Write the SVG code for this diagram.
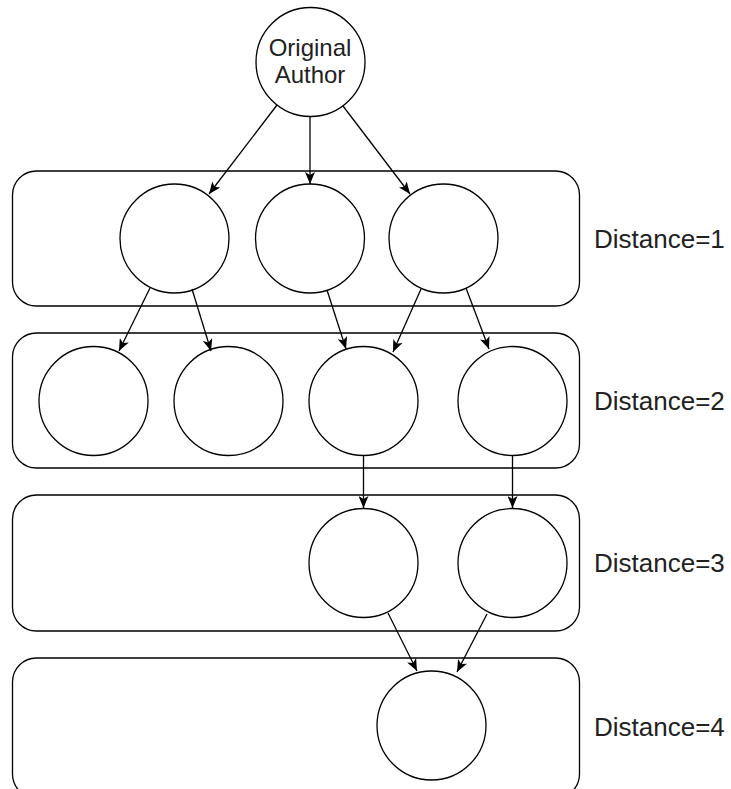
<svg xmlns="http://www.w3.org/2000/svg" width="731" height="789" viewBox="0 0 731 789">
  <style>
    .band { fill: #ffffff; stroke: #000000; stroke-width: 1.3; }
    .node circle { fill: #ffffff; stroke: #000000; stroke-width: 1.3; }
    .edge { fill: none; stroke: #000000; stroke-width: 1.3; marker-end: url(#arrow); }
    .label { font-family: "Liberation Sans", Arial, sans-serif; font-size: 26px; fill: #222222; }
    .name { font-family: "Liberation Sans", Arial, sans-serif; font-size: 24px; fill: #222222; text-anchor: middle; }
  </style>
  <defs>
    <marker id="arrow" viewBox="0 0 12 10" refX="12" refY="5" markerWidth="12" markerHeight="10" markerUnits="userSpaceOnUse" orient="auto">
      <path d="M0,0 L12,5 L0,10 L3,5 Z" fill="#000000"/>
    </marker>
  </defs>
  <rect width="731" height="789" fill="#ffffff"/>

  <!-- distance bands -->
  <g id="band-1">
    <rect class="band" x="12.5" y="171" width="567" height="135" rx="24"/>
    <text class="label" x="594" y="248">Distance=1</text>
  </g>
  <g id="band-2">
    <rect class="band" x="12.5" y="333" width="567" height="135" rx="24"/>
    <text class="label" x="594" y="410">Distance=2</text>
  </g>
  <g id="band-3">
    <rect class="band" x="12.5" y="495" width="567" height="136" rx="24"/>
    <text class="label" x="594" y="572">Distance=3</text>
  </g>
  <g id="band-4">
    <rect class="band" x="12.5" y="658" width="567" height="140" rx="24"/>
    <text class="label" x="594" y="736">Distance=4</text>
  </g>

  <!-- root -->
  <g id="author" class="node">
    <circle cx="310.5" cy="62" r="54.5"/>
    <text class="name" x="310" y="56">Original</text>
    <text class="name" x="310" y="83">Author</text>
  </g>

  <!-- distance 1 -->
  <g id="d1-a" class="node"><circle cx="174.5" cy="238.5" r="54.5"/></g>
  <g id="d1-b" class="node"><circle cx="310" cy="238.5" r="54.5"/></g>
  <g id="d1-c" class="node"><circle cx="443.5" cy="238.5" r="54.5"/></g>

  <!-- distance 2 -->
  <g id="d2-a" class="node"><circle cx="93.5" cy="401" r="54.5"/></g>
  <g id="d2-b" class="node"><circle cx="228.5" cy="401" r="54.5"/></g>
  <g id="d2-c" class="node"><circle cx="363.5" cy="401" r="54.5"/></g>
  <g id="d2-d" class="node"><circle cx="512.5" cy="401" r="54.5"/></g>

  <!-- distance 3 -->
  <g id="d3-a" class="node"><circle cx="363.5" cy="563" r="54.5"/></g>
  <g id="d3-b" class="node"><circle cx="512.5" cy="563" r="54.5"/></g>

  <!-- distance 4 -->
  <g id="d4-a" class="node"><circle cx="431.5" cy="725.5" r="54.5"/></g>

  <!-- connectors -->
  <g id="edges">
    <line class="edge" x1="277" y1="105" x2="209" y2="194"/>
    <line class="edge" x1="310" y1="117" x2="310" y2="184"/>
    <line class="edge" x1="343" y1="106" x2="410" y2="194"/>
    <line class="edge" x1="150" y1="288" x2="119" y2="351"/>
    <line class="edge" x1="192" y1="289" x2="211" y2="351"/>
    <line class="edge" x1="327" y1="290" x2="346" y2="349"/>
    <line class="edge" x1="421" y1="289" x2="393" y2="352"/>
    <line class="edge" x1="466" y1="288" x2="489" y2="349"/>
    <line class="edge" x1="363.5" y1="455.5" x2="363.5" y2="508"/>
    <line class="edge" x1="512.5" y1="455.5" x2="512.5" y2="508"/>
    <line class="edge" x1="388" y1="613" x2="417" y2="671"/>
    <line class="edge" x1="487" y1="614" x2="457" y2="672"/>
  </g>
</svg>
